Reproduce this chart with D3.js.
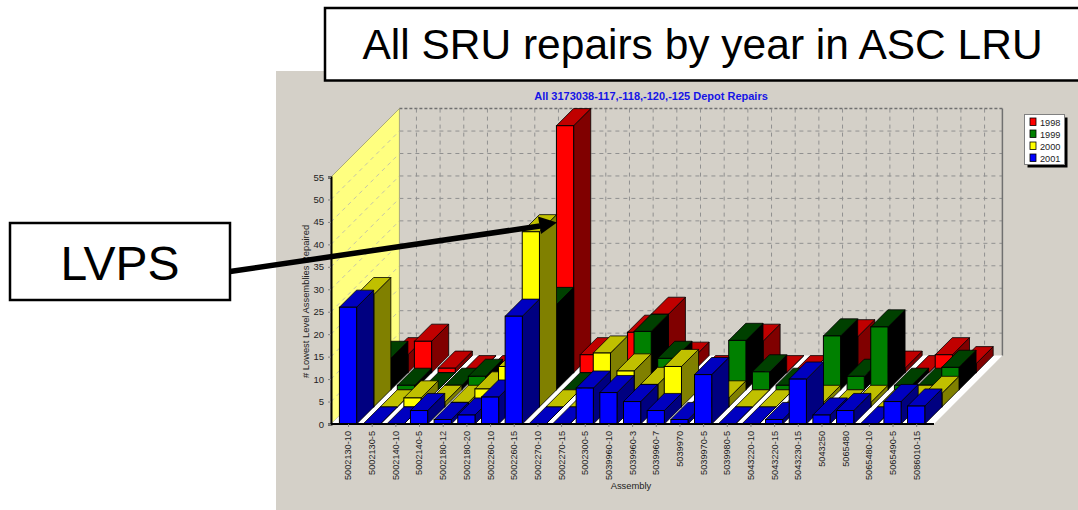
<!DOCTYPE html>
<html>
<head>
<meta charset="utf-8">
<script src="https://cdn.jsdelivr.net/npm/d3@7"></script>
<style>
  html, body { margin:0; padding:0; background:#fff; }
  svg { display:block; }
  text { font-family:"Liberation Sans", Arial, sans-serif; }
</style>
</head>
<body>
<div id="chart"></div>
<script>
const assemblies = ["5002130-10","5002130-5","5002140-10","5002140-5","5002180-12","5002180-20","5002260-10","5002260-15","5002270-10","5002270-15","5002300-5","5039960-10","5039960-3","5039960-7","5039970","5039970-5","5039980-5","5043220-10","5043220-15","5043230-15","5043250","5065480","5065480-10","5065490-5","5086010-15"]
const years = ["1998","1999","2000","2001"]

const r1998 = [4,7,1,0,0,0,0,55,4,0,9,13,3,0,0,7,0,0,0,8,0,1,0,4,2]
const r1999 = [7,1,0,1,3,0,0,19,0,0,0,13,7,0,0,11,4,1,0,12,3,14,1,1,5]
const r2000 = [25,0,2,1,1,4,9,39,0,0,12,8,5,9,0,2,0,0,0,1,0,1,0,1,3]
const r2001 = [26,0,0,3,1,2,6,24,0,0,8,7,5,3,1,11,0,0,1,10,2,3,0,5,4]
const yTicks = [0,5,10,15,20,25,30,35,40,45,50,55]

const faces = {
  "1998": { front:"#ff0000", top:"#c00000", side:"#800000" },
  "1999": { front:"#008000", top:"#004000", side:"#000000" },
  "2000": { front:"#ffff00", top:"#c0c000", side:"#808000" },
  "2001": { front:"#0000ff", top:"#0000c0", side:"#000080" }
}
const seriesByYear = { "1998":r1998, "1999":r1999, "2000":r2000, "2001":r2001 }

const width = 1078, height = 510
// floor corner and depth of the fake 3d box
const floorLeft = 331, floorRight = 934, floorY = 424
const depth = 68.4, rowDepth = depth/4

let svg = d3.select("#chart").append("svg")
  .attr("width", width)
  .attr("height", height)

svg.append("rect").attr("x",276).attr("y",71).attr("width",802).attr("height",439).attr("fill","#d4d0c8")

let xScale = d3.scaleBand().domain(assemblies).range([336.2, 928]).paddingInner(0.273).paddingOuter(0.136)
let yScale = d3.scaleLinear().domain([0,55]).range([floorY, 177])
let rowScale = d3.scalePoint().domain(["2001","2000","1999","1998"]).range([0, rowDepth*3])

const poly = pts => pts.map(p => p.join(",")).join(" ")

// back wall grid
svg.append("g").selectAll("line").data(yTicks.slice(1)).enter().append("line")
  .attr("x1",floorLeft+depth).attr("x2",floorRight+depth)
  .attr("y1",d=>yScale(d)-depth).attr("y2",d=>yScale(d)-depth)
  .attr("stroke",d=>d==55?"#707070":"#909090").attr("stroke-dasharray",d=>d==55?"3,2":"4,4")
  .attr("stroke-width",d=>d==55?1.5:1)

svg.append("g").selectAll("line").data(assemblies).enter().append("line")
  .attr("x1",d=>xScale(d)+xScale.bandwidth()/2+depth).attr("x2",d=>xScale(d)+xScale.bandwidth()/2+depth)
  .attr("y1",yScale(55)-depth).attr("y2",floorY-depth)
  .attr("stroke","#909090").attr("stroke-dasharray","4,4")

svg.append("line")
  .attr("x1",floorRight+depth).attr("x2",floorRight+depth)
  .attr("y1",yScale(55)-depth).attr("y2",floorY-depth)
  .attr("stroke","#707070").attr("stroke-width",1.5)

// side wall
svg.append("polygon")
  .attr("points", poly([[floorLeft,yScale(55)],[floorLeft+depth,yScale(55)-depth],[floorLeft+depth,floorY-depth],[floorLeft,floorY]]))
  .attr("fill","#ffff80").attr("stroke","#808060").attr("stroke-width",0.6)

svg.append("g").selectAll("line").data(yTicks.slice(1,11)).enter().append("line")
  .attr("x1",floorLeft).attr("x2",floorLeft+depth)
  .attr("y1",d=>yScale(d)).attr("y2",d=>yScale(d)-depth)
  .attr("stroke","#c4c4a8").attr("stroke-dasharray","4,4")

// floor
svg.append("polygon")
  .attr("points", poly([[floorLeft,floorY],[floorRight,floorY],[floorRight+depth,floorY-depth],[floorLeft+depth,floorY-depth]]))
  .attr("fill","#ffffff")

// bars, back row first, left to right so nearer faces paint over
years.forEach(yr => {
  let g = svg.append("g").attr("class","y"+yr)
  let f = faces[yr]
  let dp = rowDepth
  seriesByYear[yr].forEach((v,i) => {
    let off = rowScale(yr)
    let x0 = xScale(assemblies[i]) + off
    let x1 = x0 + xScale.bandwidth()
    let yTop = yScale(v) - off
    let yBot = floorY - off
    g.append("polygon").attr("points",poly([[x1,yTop],[x1+dp,yTop-dp],[x1+dp,yBot-dp],[x1,yBot]]))
      .attr("fill",f.side).attr("stroke","#000").attr("stroke-width",0.8)
    g.append("polygon").attr("points",poly([[x0,yTop],[x1,yTop],[x1+dp,yTop-dp],[x0+dp,yTop-dp]]))
      .attr("fill",f.top).attr("stroke","#000").attr("stroke-width",0.8)
    g.append("rect").attr("x",x0).attr("y",yTop).attr("width",x1-x0).attr("height",yBot-yTop)
      .attr("fill",f.front).attr("stroke","#000").attr("stroke-width",1)
  })
})

// axes
let yAxis = d3.axisLeft(yScale).tickValues(yTicks).tickSize(3).tickPadding(4)
let yG = svg.append("g").attr("transform",`translate(${floorLeft},0)`).call(yAxis)
yG.select(".domain").attr("stroke","#000").attr("stroke-width",2)
yG.selectAll("text").attr("font-size",9.5).attr("fill","#222").style("font-family",'"Liberation Sans"')
yG.selectAll("line").attr("stroke","#808080")

svg.append("line").attr("x1",floorLeft).attr("x2",floorRight).attr("y1",floorY).attr("y2",floorY)
  .attr("stroke","#000").attr("stroke-width",2)

let xPoint = d3.scalePoint().domain(assemblies).range([xScale(assemblies[0])+xScale.bandwidth()/2, xScale(assemblies[24])+xScale.bandwidth()/2])
let xAxis = d3.axisBottom(xPoint).tickSize(3).tickPadding(6)
let xG = svg.append("g").attr("transform",`translate(0,${floorY})`).call(xAxis)
xG.select(".domain").remove()
xG.selectAll("line").attr("stroke","#808080")
xG.selectAll("text")
  .attr("transform","rotate(-90)")
  .attr("x",-7).attr("y",0).attr("dy","0.32em")
  .attr("text-anchor","end")
  .attr("font-size",9.2).attr("fill","#222").style("font-family",'"Liberation Sans"')

svg.append("text").attr("x",631).attr("y",489).attr("text-anchor","middle").attr("font-size",9.4).attr("fill","#222").text("Assembly")
svg.append("text").attr("transform","translate(309,301.5) rotate(-90)").attr("text-anchor","middle").attr("font-size",9.4).attr("fill","#222").text("# Lowest Level Assemblies Repaired")

svg.append("text").attr("x",651).attr("y",100).attr("text-anchor","middle").attr("font-size",11).attr("font-weight","bold").attr("fill","#1414e6")
  .text("All 3173038-117,-118,-120,-125 Depot Repairs")

// legend
svg.append("rect").attr("x",1027.5).attr("y",117.5).attr("width",40).attr("height",50).attr("fill","#000")
svg.append("rect").attr("x",1024.5).attr("y",114.5).attr("width",40).attr("height",50).attr("fill","#fff").attr("stroke","#808080")
let legend = svg.append("g").selectAll("g").data(years).enter().append("g")
  .attr("transform",(d,i)=>`translate(1030,${118+i*12})`)
legend.append("rect").attr("width",6).attr("height",7.5).attr("fill",d=>faces[d].front).attr("stroke","#000").attr("stroke-width",0.8)
legend.append("text").attr("x",10).attr("y",7.5).attr("font-size",9.2).attr("fill","#222").text(d=>d)

// annotation boxes on top
svg.append("rect").attr("x",325).attr("y",8).attr("width",770).attr("height",72.5).attr("fill","#fff").attr("stroke","#000").attr("stroke-width",2.5)
svg.append("text").attr("x",702.5).attr("y",59).attr("text-anchor","middle").attr("font-size",42.5).attr("fill","#000").text("All SRU repairs by year in ASC LRU")

svg.append("rect").attr("x",10).attr("y",223).attr("width",220).attr("height",77).attr("fill","#fff").attr("stroke","#000").attr("stroke-width",2.5)
svg.append("text").attr("x",120).attr("y",280).attr("text-anchor","middle").attr("font-size",48).attr("fill","#000").text("LVPS")

svg.append("line").attr("x1",230).attr("y1",271.5).attr("x2",540).attr("y2",226).attr("stroke","#000").attr("stroke-width",5.5)
svg.append("polygon").attr("points",poly([[557,222.5],[538,216.5],[541,234]])).attr("fill","#000")
</script>
</body>
</html>
